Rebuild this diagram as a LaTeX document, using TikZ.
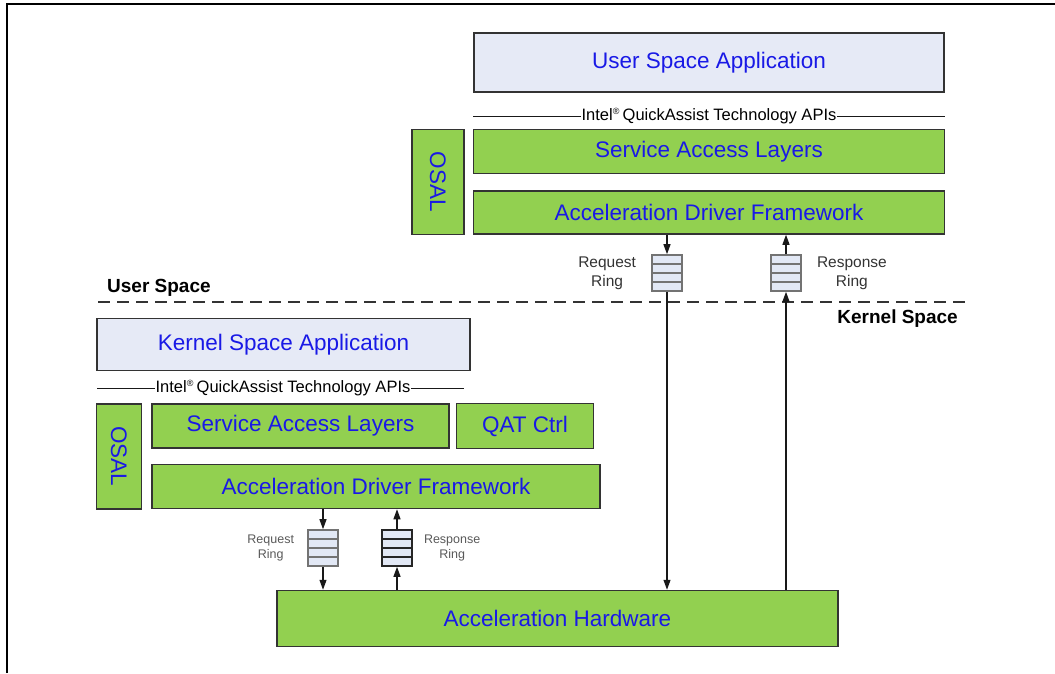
\documentclass[tikz,border=0pt]{standalone}
\usepackage{fontspec}
\setmainfont{Liberation Sans}
\usetikzlibrary{arrows.meta, positioning, matrix, calc}

\definecolor{qatgreen}{RGB}{146,208,80}
\definecolor{qatblue}{RGB}{25,25,230}
\definecolor{appfill}{RGB}{230,234,246}
\definecolor{ringfill}{RGB}{226,232,245}

\newcommand{\qatapi}{Intel\textsuperscript{\fontsize{9}{9}\selectfont\textregistered}\,QuickAssist Technology APIs}

\begin{document}
\begin{tikzpicture}[x=1pt, y=-1pt,
    % Styles
    layer/.style={draw=black!80, line width=1.5pt, fill=qatgreen, text=qatblue, font=\fontsize{22.5}{27}\selectfont, inner sep=0pt, align=center},
    app/.style={layer, fill=appfill},
    ringcell/.style={draw=black!55, line width=1.2pt, fill=ringfill, minimum width=30pt, minimum height=9pt, inner sep=0pt},
    ringmatrix/.style={matrix of nodes, ampersand replacement=\&, row sep=-1.2pt, column sep=0pt, inner sep=0pt, nodes={ringcell}},
    ringlabel/.style={font=\fontsize{15.5}{19}\selectfont, text=black!80, align=center, inner sep=1pt},
    small ringlabel/.style={ringlabel, font=\fontsize{12.5}{15}\selectfont, text=black!65},
    apilabel/.style={font=\fontsize{16.5}{19}\selectfont, inner xsep=0.5pt, inner ysep=2pt},
    apiline/.style={line width=1pt, black!90},
    spacelabel/.style={font=\bfseries\fontsize{19}{23}\selectfont, inner sep=0pt},
    flow/.style={-{Triangle[length=10pt, width=7pt]}, line width=1.2pt, black!90},
    node distance=16pt
]
    \useasboundingbox (0,0) rectangle (1055,673);

    % Frame (cut at right and bottom)
    \draw[line width=2.2pt] (7,673) -- (7,4) -- (1055,4);

    % ---- User space stack ----
    \node[app, minimum width=470pt, minimum height=59pt] (usrapp) at (709,62.5) {User Space Application};

    \node[apilabel] (usrapi) at ($(usrapp.south)+(0,23.5)$) {\qatapi};
    \draw[apiline] (usrapp.south west |- usrapi.west) -- (usrapi.west);
    \draw[apiline] (usrapi.east) -- (usrapp.south east |- usrapi.east);

    \node[layer, minimum width=471pt, minimum height=44pt, below=36pt of usrapp] (usrsal) {Service Access Layers};
    \node[layer, minimum width=471pt, minimum height=43pt, below=16pt of usrsal] (usradf) {Acceleration Driver Framework};

    % OSAL (vertical text)
    \node[layer, rotate=-90, minimum width=105pt, minimum height=52pt] (usrosal)
        at ($(usrsal.north west)!0.5!(usradf.south west)+(-35,0)$) {OSAL};

    % Rings
    \matrix[ringmatrix] (usrreq) at (667,273) { ~ \\ ~ \\ ~ \\ ~ \\ };
    \matrix[ringmatrix] (usrrsp) at (786,273) { ~ \\ ~ \\ ~ \\ ~ \\ };
    \node[ringlabel, left=14pt of usrreq] (usrreqlbl) {Request\\Ring};
    \node[ringlabel, right=14pt of usrrsp] (usrrsplbl) {Response\\Ring};

    % Space separator
    \coordinate (sepw) at (98,302);
    \coordinate (sepe) at (967,302);
    \draw[line width=2pt, black!80, dash pattern=on 12pt off 7pt] (sepw) -- (sepe);
    \node[spacelabel, anchor=base west] (usrspace) at (107,292) {User Space};
    \node[spacelabel, anchor=base east] (krnspace) at (958,323) {Kernel Space};

    % ---- Kernel space stack ----
    \node[app, minimum width=373pt, minimum height=52pt] (krnapp) at (283.5,344.5) {Kernel Space Application};

    \node[apilabel] (krnapi) at (283,388) {\qatapi};
    \coordinate (krnapiw) at (97,388);
    \coordinate (krnapie) at (464,388);
    \draw[apiline] (krnapiw) -- (krnapi.west);
    \draw[apiline] (krnapi.east) -- (krnapie);

    \node[layer, minimum width=297pt, minimum height=44pt] (krnsal) at (300.5,426) {Service Access Layers};
    \node[layer, minimum width=137pt, minimum height=45pt, right=6pt of krnsal] (krnqat) {QAT Ctrl};
    \node[layer, minimum width=448pt, minimum height=44pt, below=15pt of krnsal.south west, anchor=north west] (krnadf) {Acceleration Driver Framework};

    \node[layer, rotate=-90, minimum width=105pt, minimum height=45pt] (krnosal)
        at ($(krnsal.north west)!0.5!(krnadf.south west)+(-32.5,0)$) {OSAL};

    \matrix[ringmatrix] (krnreq) at (323,548) { ~ \\ ~ \\ ~ \\ ~ \\ };
    \matrix[ringmatrix, nodes={draw=black!85}] (krnrsp) at (397,548) { ~ \\ ~ \\ ~ \\ ~ \\ };
    \node[small ringlabel, left=12pt of krnreq] (krnreqlbl) {Request\\Ring};
    \node[small ringlabel, right=10pt of krnrsp] (krnrsplbl) {Response\\Ring};

    % Hardware
    \node[layer, minimum width=561pt, minimum height=56pt] (hw) at (557.5,618.5) {Acceleration Hardware};

    % ---- Flows ----
    \draw[flow] (usradf.south -| usrreq.north) -- (usrreq.north);
    \draw[flow] (usrrsp.north) -- (usradf.south -| usrrsp.north);
    \draw[flow] (usrreq.south) -- (usrreq.south |- hw.north);
    \draw[flow] (usrrsp.south |- hw.north) -- (usrrsp.south);

    \draw[flow] (krnadf.south -| krnreq.north) -- (krnreq.north);
    \draw[flow] (krnreq.south) -- (krnreq.south |- hw.north);
    \draw[flow] (hw.north -| krnrsp.south) -- (krnrsp.south);
    \draw[flow] (krnrsp.north) -- (krnadf.south -| krnrsp.north);
\end{tikzpicture}
\end{document}
